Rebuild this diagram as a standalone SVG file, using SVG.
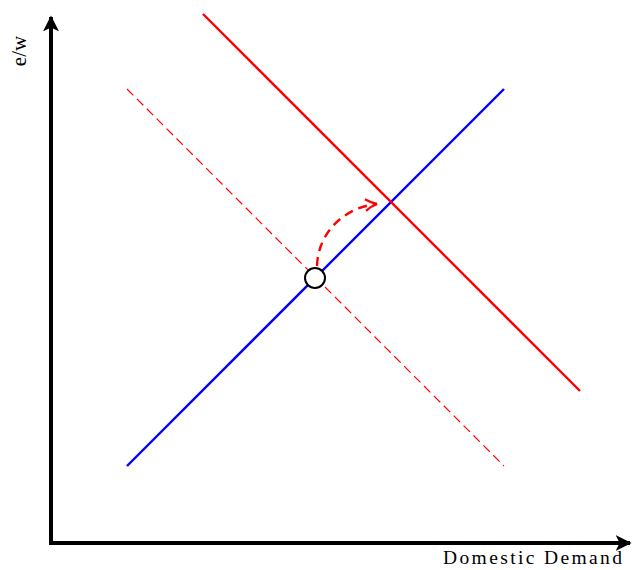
<svg xmlns="http://www.w3.org/2000/svg" width="633" height="570" viewBox="0 0 633 570">
<style>
.axis{stroke:#000;stroke-width:4;fill:none}
.lbl{font-family:"Liberation Serif",serif;fill:#000}
.blue{stroke:#00f;stroke-width:2.4;fill:none}
.red{stroke:#f00;stroke-width:2.4;fill:none}
.reddash{stroke:#f00;stroke-width:1.2;fill:none;stroke-dasharray:9,5}
</style>
<defs>
<marker id="ah" viewBox="0 0 10 10" refX="9" refY="5" markerWidth="4" markerHeight="4.5" orient="auto" markerUnits="strokeWidth">
<path d="M0,0 L10,5 L0,10 L2.5,5 Z" fill="#000"/>
</marker>
<marker id="rah" viewBox="0 0 10 10" refX="9" refY="5" markerWidth="6" markerHeight="6" orient="auto" markerUnits="strokeWidth">
<path d="M1,1 Q5,4 9,5 Q5,6 1,9" fill="none" stroke="#f00" stroke-width="1.6"/>
</marker>
</defs>
<g id="axes">
<path class="axis" d="M51,543 L51,17" marker-end="url(#ah)"/>
<path class="axis" d="M49,543 L630,543" marker-end="url(#ah)"/>
<text class="lbl" font-size="21" transform="translate(26,51) rotate(-90)" text-anchor="middle">e/w</text>
<text class="lbl" font-size="19.5" x="443" y="564" textLength="179" lengthAdjust="spacing">Domestic Demand</text>
</g>
<g id="connectors">
<line class="reddash" x1="127" y1="89" x2="504" y2="466"/>
<line class="blue" x1="127" y1="466" x2="504" y2="89"/>
<line class="red" x1="203" y1="14" x2="580" y2="391"/>
<path d="M317,266 C318,232 345,207 377,204" stroke="#f00" stroke-width="2.4" fill="none" stroke-dasharray="9,6" marker-end="url(#rah)"/>
</g>
<g id="equilibrium">
<circle cx="315" cy="278" r="10" fill="#fff" stroke="#000" stroke-width="2"/>
</g>
</svg>
